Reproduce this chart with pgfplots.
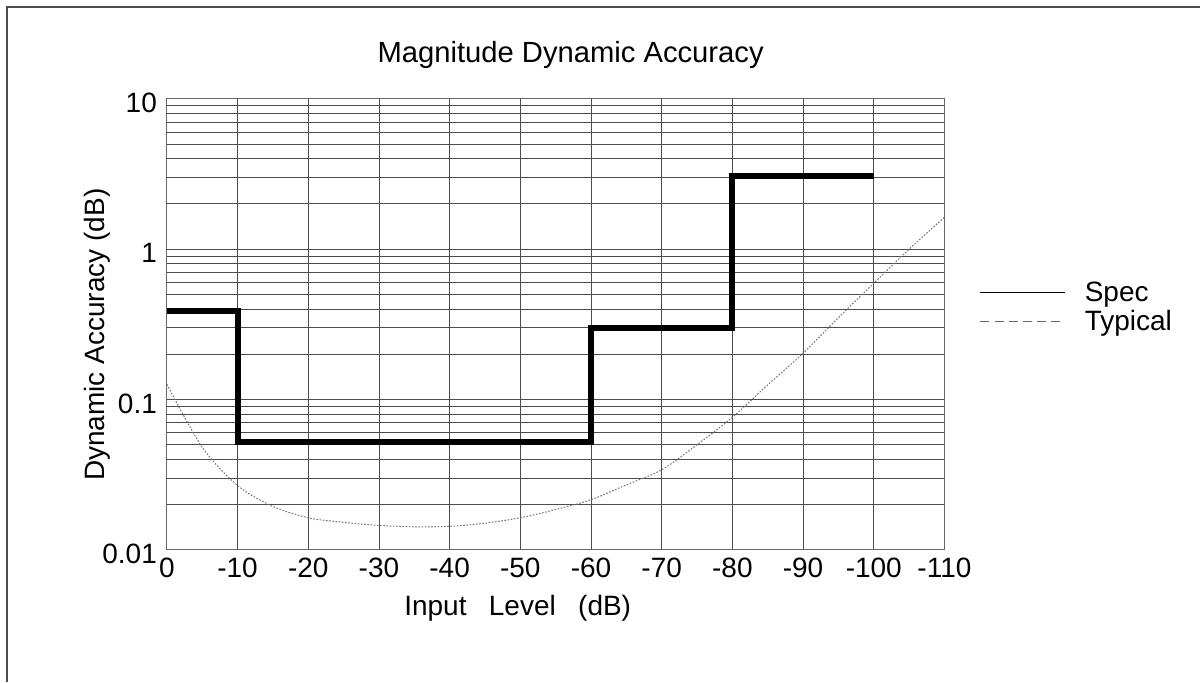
\documentclass[border=0pt]{standalone}
\usepackage{fontspec}
\setmainfont{Liberation Sans}
\usepackage{pgfplots}
\pgfplotsset{compat=1.18}
\begin{document}
\begin{tikzpicture}[x=1pt,y=1pt]
\path (0,0) rectangle (600.5,341);
\draw[black!70, line width=0.7pt] (3.5,0) -- (3.5,337.5) -- (600.5,337.5);
\begin{axis}[
  at={(83.5pt,66pt)}, anchor=south west,
  scale only axis, width=389pt, height=225.5pt,
  xmin=0, xmax=110, ymode=log, ymin=0.01, ymax=10,
  xtick={0,10,20,30,40,50,60,70,80,90,100,110},
  xticklabels={0,-10,-20,-30,-40,-50,-60,-70,-80,-90,-100,-110},
  ytick={0.01,0.1,1,10},
  yticklabels={0.01,0.1,1,10},
  grid=both,
  major grid style={black!70, line width=0.45pt},
  minor grid style={black!70, line width=0.45pt},
  axis line style={black!60, line width=0.5pt},
  major tick length=0pt, minor tick length=0pt,
  tick style={draw=none},
  ticklabel style={font=\fontsize{14}{16}\selectfont},
  xticklabel style={yshift=-0.8pt},
  yticklabel style={xshift=-1.5pt, yshift=-2pt},
  legend style={at={(1.045,0.537)}, anchor=west, draw=none, fill=none,
    inner sep=0pt, font=\fontsize{14}{16}\selectfont,
    legend cell align=left, row sep=-1pt,
    /tikz/every odd column/.style={column sep=7.5pt}},
  legend image code/.code={\draw[#1] (0pt,0pt) -- (42.5pt,0pt);},
]
\addplot[black, line width=3pt, line join=miter, forget plot] coordinates {
  (0,0.39) (10,0.39) (10,0.052) (60,0.052) (60,0.3) (80,0.3) (80,3.05) (100,3.05)
};
\addplot[black!55, line width=0.5pt, dash pattern=on 0.8pt off 0.8pt, smooth, forget plot] coordinates {
  (0,0.126) (5,0.048) (10,0.0267) (15,0.0194) (20,0.0163) (25,0.0152)
  (30,0.0145) (35,0.0142) (40,0.0143) (45,0.015) (50,0.0163) (55,0.0185)
  (60,0.0215) (65,0.027) (70,0.034) (75,0.05) (80,0.076) (85,0.125)
  (90,0.203) (95,0.35) (100,0.593) (105,1.0) (110,1.63)
};
\addlegendimage{black, line width=0.5pt}
\addlegendentry{Spec}
\addlegendimage{black!60, line width=0.5pt, dash pattern=on 4.5pt off 2.6pt}
\addlegendentry{Typical}
\end{axis}
\node[font=\fontsize{14.6}{16}\selectfont] at (285.5,313.5) {Magnitude Dynamic Accuracy};
\node[font=\fontsize{14}{16}\selectfont, rotate=90] at (48.5,173.5) {Dynamic Accuracy (dB)};
\node[font=\fontsize{14}{16}\selectfont] at (259,36.5) {Input\hspace{0.8em}Level\hspace{0.8em}(dB)};
\end{tikzpicture}
\end{document}
